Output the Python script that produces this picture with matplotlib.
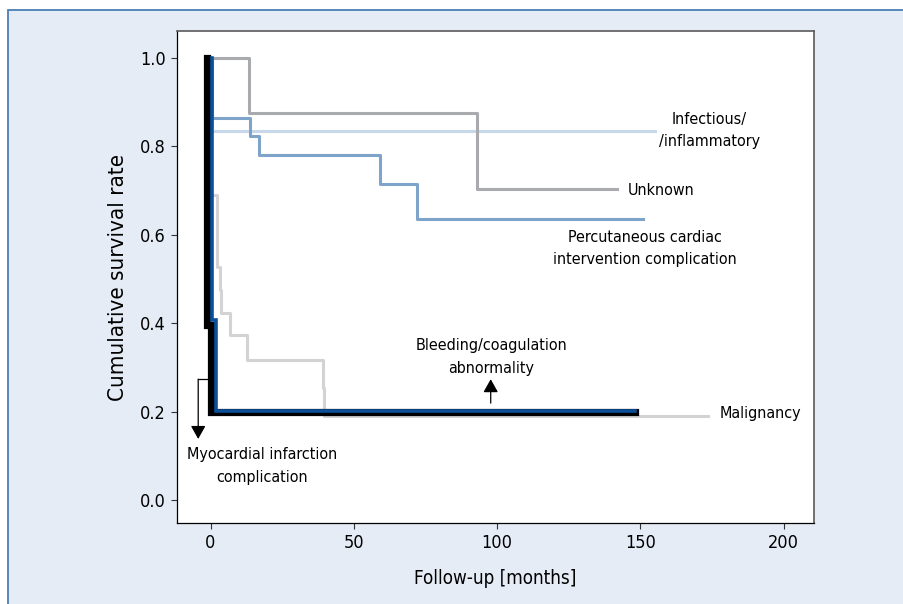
import matplotlib
matplotlib.use('Agg')
import matplotlib.pyplot as plt
from matplotlib.patches import Rectangle

plt.rcParams['font.family'] = ['DejaVu Sans']
plt.rcParams['font.stretch'] = 'condensed'

# ==========================================
# Data
# ==========================================

# Kaplan-Meier steps: time [months] and survival after each step
mi_time = [-1.2, -1.2, 0.2, 148]
mi_surv = [1.0, 0.395, 0.199, 0.199]

bleed_time = [0.6, 0.6, 1.9, 148]
bleed_surv = [1.0, 0.406, 0.201, 0.201]

unknown_time = [1.0, 13.5, 93, 142]
unknown_surv = [1.0, 0.874, 0.702, 0.702]

infect_time = [0.5, 0.5, 155]
infect_surv = [1.0, 0.834, 0.834]

pci_time = [0.5, 0.5, 13.9, 16.8, 59, 72, 151]
pci_surv = [1.0, 0.864, 0.822, 0.779, 0.715, 0.636, 0.636]

malig_time = [0, 0, 2.2, 3.2, 3.8, 6.8, 12.9, 39.3, 39.7, 173.5]
malig_surv = [1.0, 0.69, 0.527, 0.474, 0.422, 0.372, 0.316, 0.253, 0.19, 0.19]

x_ticks = [0, 50, 100, 150, 200]
y_ticks = [0.0, 0.2, 0.4, 0.6, 0.8, 1.0]

# ==========================================
# Figure
# ==========================================

fig = plt.figure(figsize=(9.04, 6.04), dpi=100)
fig.patch.set_facecolor('white')
fig.patches.append(Rectangle((7.5 / 904, -0.05), 1.1, 594.25 / 604 + 0.05,
                             transform=fig.transFigure, facecolor='#e5ecf5',
                             edgecolor='#4a7fb5', linewidth=1.3, zorder=-10))

ax = fig.add_axes([0.1958, 0.1341, 0.9 - 0.1958, 0.9487 - 0.1341])
ax.set_facecolor('white')

ax.plot(malig_time, malig_surv, drawstyle='steps-post', color='#d3d3d3', lw=2.2, zorder=2)
ax.plot(infect_time, infect_surv, drawstyle='steps-post', color='#c6d8ea', lw=2.2, zorder=2)
ax.plot(pci_time, pci_surv, drawstyle='steps-post', color='#7ea4c9', lw=2.2, zorder=3)
ax.plot(unknown_time, unknown_surv, drawstyle='steps-post', color='#a8aaad', lw=2.2, zorder=3)
ax.plot(mi_time, mi_surv, drawstyle='steps-post', color='black', lw=5.2, zorder=4,
        solid_joinstyle='miter')
ax.plot(bleed_time, bleed_surv, drawstyle='steps-post', color='#0b4f98', lw=2.6, zorder=5,
        solid_joinstyle='miter')

ax.set_xlim(-11.7, 210.5)
ax.set_ylim(-0.052, 1.06)
ax.set_xticks(x_ticks)
ax.set_yticks(y_ticks)
ax.set_yticklabels(['%.1f' % v for v in y_ticks])
ax.tick_params(direction='out', length=4, width=0.8, color='#333333',
               labelsize=13, pad=4)

for side in ['left', 'bottom']:
    ax.spines[side].set_color('black')
    ax.spines[side].set_linewidth(0.9)
for side in ['top', 'right']:
    ax.spines[side].set_color('#5a5a5a')
    ax.spines[side].set_linewidth(1.2)

ax.set_xlabel('Follow-up [months]', fontsize=13.5, labelpad=12)
ax.set_ylabel('Cumulative survival rate', fontsize=16, labelpad=9)

# curve labels
fs = 11.5
ls = 1.6
ax.text(174.2, 0.835, 'Infectious/\n/inflammatory', fontsize=fs, ha='center',
        va='center', linespacing=ls)
ax.text(145.6, 0.700, 'Unknown', fontsize=fs, ha='left', va='center')
ax.text(151.6, 0.569, 'Percutaneous cardiac\nintervention complication', fontsize=fs,
        ha='center', va='center', linespacing=ls)
ax.text(177.6, 0.196, 'Malignancy', fontsize=fs, ha='left', va='center')
ax.text(97.9, 0.323, 'Bleeding/coagulation\nabnormality', fontsize=fs,
        ha='center', va='center', linespacing=ls)
ax.text(17.9, 0.077, 'Myocardial infarction\ncomplication', fontsize=fs,
        ha='center', va='center', linespacing=ls)

# arrows
head = '-|>,head_length=0.8,head_width=0.45'
ax.annotate('', xy=(97.8, 0.273), xytext=(97.8, 0.219),
            arrowprops=dict(arrowstyle=head, color='black', lw=0.9,
                            shrinkA=0, shrinkB=0))
ax.plot([-1.0, -4.3], [0.273, 0.273], color='black', lw=0.9, zorder=1)
ax.annotate('', xy=(-4.3, 0.138), xytext=(-4.3, 0.273),
            arrowprops=dict(arrowstyle=head, color='black', lw=0.9,
                            shrinkA=0, shrinkB=0))

plt.savefig('out.png', dpi=100)
